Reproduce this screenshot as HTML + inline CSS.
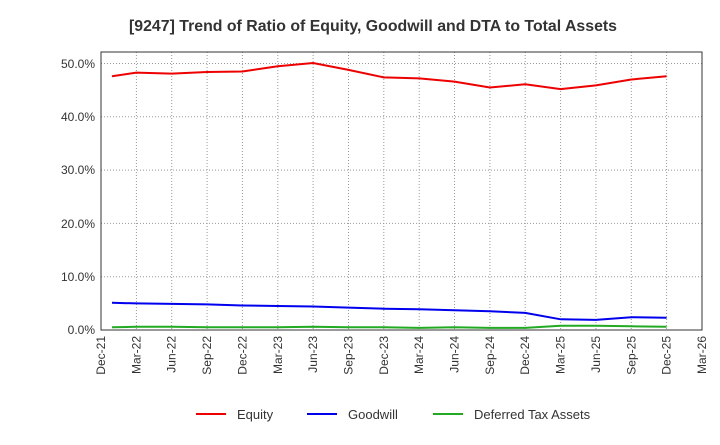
<!DOCTYPE html>
<html><head><meta charset="utf-8"><style>
body{margin:0;background:#fff;font-family:"Liberation Sans",sans-serif}
</style></head><body>
<svg width="720" height="440" xmlns="http://www.w3.org/2000/svg" font-family="Liberation Sans, sans-serif">
<rect width="720" height="440" fill="#fff"/>
<text x="129" y="31" font-size="16" font-weight="bold" fill="#333" textLength="488" lengthAdjust="spacingAndGlyphs">[9247]  Trend of Ratio of Equity, Goodwill and DTA to Total Assets</text>
<g stroke="#999" stroke-dasharray="1,2" stroke-width="1">
<line x1="101" y1="63.5" x2="702" y2="63.5"/><line x1="101" y1="116.8" x2="702" y2="116.8"/><line x1="101" y1="170.1" x2="702" y2="170.1"/><line x1="101" y1="223.4" x2="702" y2="223.4"/><line x1="101" y1="276.7" x2="702" y2="276.7"/>
<line x1="136.4" y1="52" x2="136.4" y2="330"/><line x1="171.7" y1="52" x2="171.7" y2="330"/><line x1="207.1" y1="52" x2="207.1" y2="330"/><line x1="242.4" y1="52" x2="242.4" y2="330"/><line x1="277.8" y1="52" x2="277.8" y2="330"/><line x1="313.1" y1="52" x2="313.1" y2="330"/><line x1="348.5" y1="52" x2="348.5" y2="330"/><line x1="383.8" y1="52" x2="383.8" y2="330"/><line x1="419.2" y1="52" x2="419.2" y2="330"/><line x1="454.5" y1="52" x2="454.5" y2="330"/><line x1="489.9" y1="52" x2="489.9" y2="330"/><line x1="525.2" y1="52" x2="525.2" y2="330"/><line x1="560.6" y1="52" x2="560.6" y2="330"/><line x1="595.9" y1="52" x2="595.9" y2="330"/><line x1="631.3" y1="52" x2="631.3" y2="330"/><line x1="666.6" y1="52" x2="666.6" y2="330"/>
</g>
<rect x="101" y="52" width="601" height="278" fill="none" stroke="#333"/>
<g font-size="12" fill="#333" text-anchor="end">
<text x="95" y="68">50.0%</text><text x="95" y="121">40.0%</text><text x="95" y="174">30.0%</text><text x="95" y="228">20.0%</text><text x="95" y="281">10.0%</text><text x="95" y="334">0.0%</text>
</g>
<g font-size="12" fill="#333" text-anchor="end">
<text transform="translate(105,336) rotate(-90)">Dec-21</text><text transform="translate(140.4,336) rotate(-90)">Mar-22</text><text transform="translate(175.7,336) rotate(-90)">Jun-22</text><text transform="translate(211.1,336) rotate(-90)">Sep-22</text><text transform="translate(246.4,336) rotate(-90)">Dec-22</text><text transform="translate(281.8,336) rotate(-90)">Mar-23</text><text transform="translate(317.1,336) rotate(-90)">Jun-23</text><text transform="translate(352.5,336) rotate(-90)">Sep-23</text><text transform="translate(387.8,336) rotate(-90)">Dec-23</text><text transform="translate(423.2,336) rotate(-90)">Mar-24</text><text transform="translate(458.5,336) rotate(-90)">Jun-24</text><text transform="translate(493.9,336) rotate(-90)">Sep-24</text><text transform="translate(529.2,336) rotate(-90)">Dec-24</text><text transform="translate(564.6,336) rotate(-90)">Mar-25</text><text transform="translate(599.9,336) rotate(-90)">Jun-25</text><text transform="translate(635.3,336) rotate(-90)">Sep-25</text><text transform="translate(670.6,336) rotate(-90)">Dec-25</text><text transform="translate(706,336) rotate(-90)">Mar-26</text>
</g>
<polyline fill="none" stroke="#e00" stroke-width="2" points="112,76.3 136.4,72.6 171.7,73.6 207.1,72.0 242.4,71.5 277.8,66.2 313.1,63.0 348.5,69.9 383.8,77.4 419.2,78.4 454.5,81.6 489.9,87.5 525.2,84.3 560.6,89.1 595.9,85.4 631.3,79.5 666.6,76.3"/>
<polyline fill="none" stroke="#00e" stroke-width="2" points="112,302.8 136.4,303.4 171.7,303.9 207.1,304.4 242.4,305.5 277.8,306.0 313.1,306.5 348.5,307.6 383.8,308.7 419.2,309.2 454.5,310.3 489.9,311.3 525.2,312.9 560.6,319.3 595.9,319.9 631.3,317.2 666.6,317.7"/>
<polyline fill="none" stroke="#2a2" stroke-width="2" points="112,327.3 136.4,326.8 171.7,326.8 207.1,327.3 242.4,327.3 277.8,327.3 313.1,326.8 348.5,327.3 383.8,327.3 419.2,327.9 454.5,327.3 489.9,327.9 525.2,327.9 560.6,325.7 595.9,325.7 631.3,326.3 666.6,326.8"/>
<g font-size="13" fill="#333">
<line x1="196" y1="414" x2="226" y2="414" stroke="#e00" stroke-width="2"/><text x="237" y="419">Equity</text>
<line x1="307" y1="414" x2="337" y2="414" stroke="#00e" stroke-width="2"/><text x="348" y="419">Goodwill</text>
<line x1="433" y1="414" x2="463" y2="414" stroke="#2a2" stroke-width="2"/><text x="474" y="419">Deferred Tax Assets</text>
</g>
</svg>
</body></html>
